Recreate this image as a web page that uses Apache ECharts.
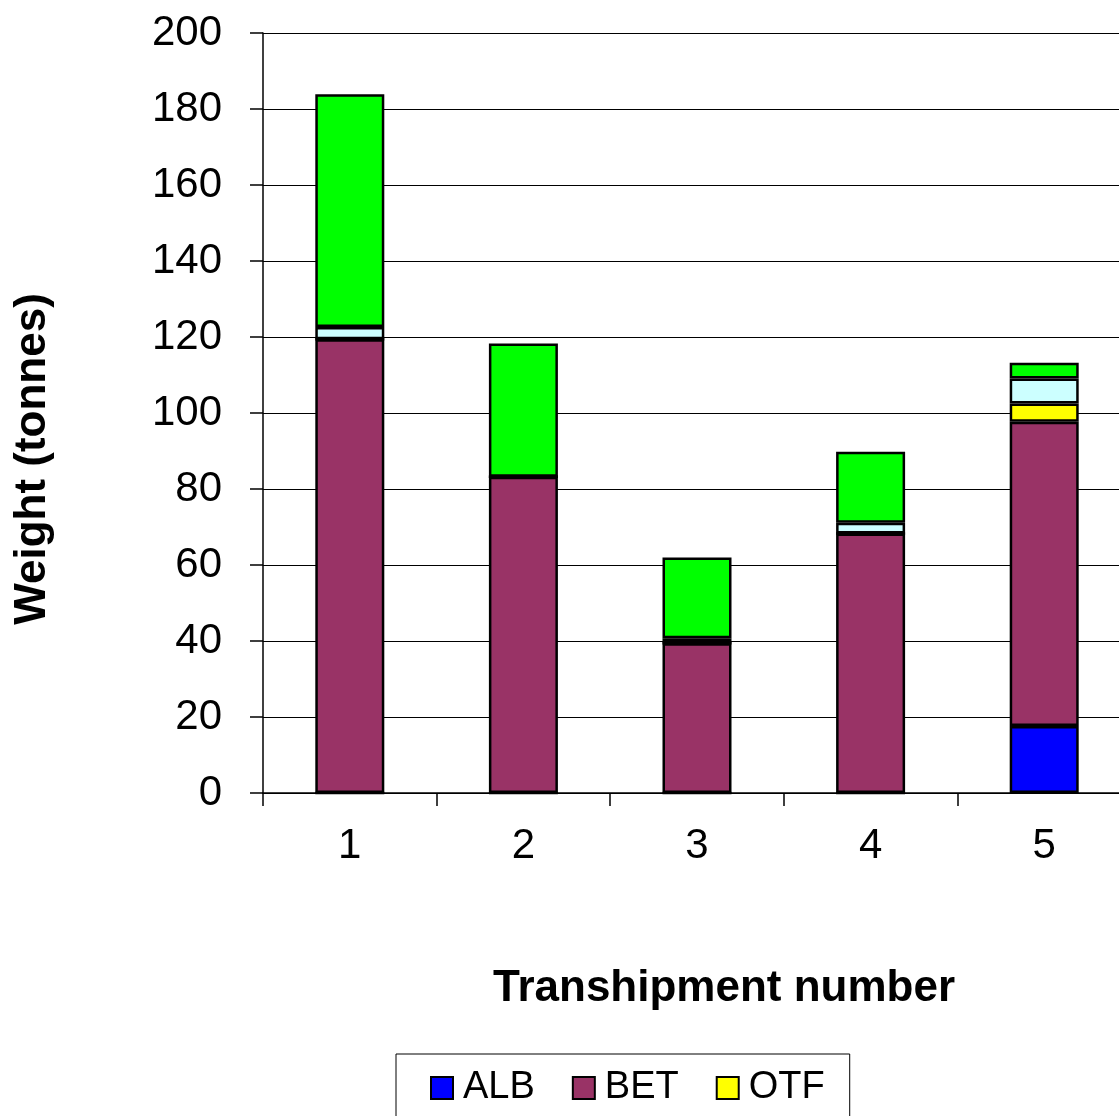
<!DOCTYPE html>
<html>
<head>
<meta charset="utf-8">
<script src="https://cdn.jsdelivr.net/npm/echarts@6/dist/echarts.min.js"></script>
<style>
html, body { margin: 0; padding: 0; background: #fff; overflow: hidden; }
/* plot runs a little past the right edge of the window, as in the original */
#chart { width: 1131px; height: 1116px; }
</style>
</head>
<body>
<div id="chart"></div>
<script>
// transhipment categories
var categories = ['1', '2', '3', '4', '5'];
// catch weights (tonnes) per species, stacked bottom -> top
var albData = [0, 0, 0, 0, 17.6];
var betData = [119.4, 83.2, 39.4, 68.3, 80.1];
var otfData = [0, 0, 0, 0, 4.8];
var skjData = [3.2, 0, 1.3, 2.8, 6.6];
var yftData = [61.3, 35.1, 21.3, 18.7, 4.1];

var FONT = '"Liberation Sans", Arial, sans-serif';

function barSeries(name, color, data) {
    return {
        name: name,
        type: 'bar',
        stack: 'total',
        barWidth: 69,
        data: data,
        itemStyle: {
            color: color,
            borderColor: '#000',
            borderWidth: 2.5
        }
    };
}

var myChart = echarts.init(document.getElementById('chart'));
var option = {
    backgroundColor: '#fff',
    animation: false,
    textStyle: { fontFamily: FONT },
    grid: {
        left: 263,
        top: 33,
        width: 868,
        height: 760
    },
    legend: {
        left: 396,
        top: 1054,
        width: 420,
        padding: [14, 25, 10, 34],
        borderColor: '#000',
        borderWidth: 1,
        itemWidth: 22,
        itemHeight: 22,
        itemGap: 37,
        icon: 'rect',
        textStyle: { fontSize: 38, color: '#000', fontFamily: FONT, lineHeight: 40, padding: [0, 0, 0, 5] },
        data: ['ALB', 'BET', 'OTF', 'SKJ', 'YFT']
    },
    xAxis: {
        type: 'category',
        data: categories,
        name: 'Transhipment number',
        nameLocation: 'middle',
        nameGap: 174,
        nameTextStyle: { fontSize: 44, fontWeight: 'bold', color: '#000', fontFamily: FONT, padding: [0, 0, 0, 54] },
        axisLine: { lineStyle: { color: '#000', width: 1.5 } },
        axisTick: { show: true, length: 13, lineStyle: { color: '#000', width: 1.5 } },
        axisLabel: { fontSize: 42, color: '#000', margin: 32, fontFamily: FONT }
    },
    yAxis: {
        type: 'value',
        min: 0,
        max: 200,
        interval: 20,
        name: 'Weight (tonnes)',
        nameLocation: 'middle',
        nameRotate: 90,
        nameGap: 208,
        nameTextStyle: { fontSize: 44, fontWeight: 'bold', color: '#000', fontFamily: FONT, padding: [0, 92, 0, 0] },
        axisLine: { show: true, lineStyle: { color: '#000', width: 1.5 } },
        axisTick: { show: true, length: 13, lineStyle: { color: '#000', width: 1.5 } },
        axisLabel: { fontSize: 42, color: '#000', margin: 41, fontFamily: FONT },
        splitLine: { show: true, lineStyle: { color: '#000', width: 1 } }
    },
    series: [
        barSeries('ALB', '#0000FF', albData),
        barSeries('BET', '#993366', betData),
        barSeries('OTF', '#FFFF00', otfData),
        barSeries('SKJ', '#CCFFFF', skjData),
        barSeries('YFT', '#00FF00', yftData)
    ]
};
myChart.setOption(option);
</script>
</body>
</html>
